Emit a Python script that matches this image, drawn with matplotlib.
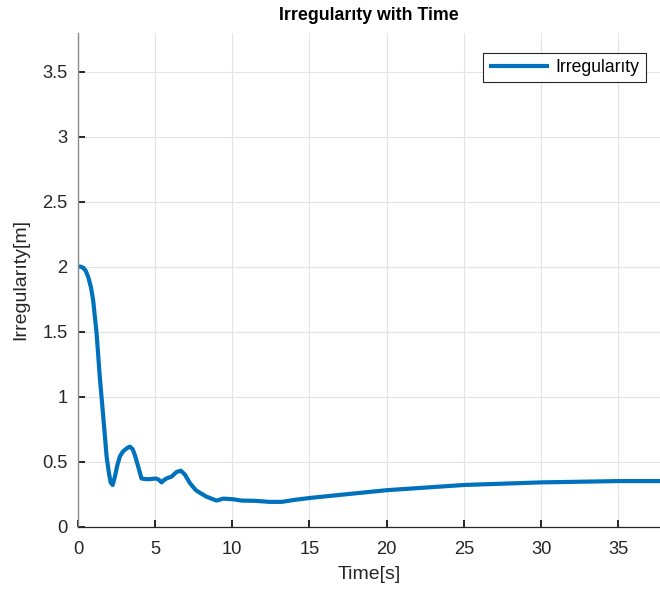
#!/usr/bin/env python3
"""Irregularity with time, MATLAB-like look."""

import matplotlib
matplotlib.use("Agg")
import matplotlib.pyplot as plt
from matplotlib.ticker import FormatStrFormatter, MultipleLocator

# values
time_s = [0.0, 0.2, 0.34, 0.5, 0.67, 0.85, 0.99, 1.21, 1.42, 1.64, 1.86,
          2.0, 2.12, 2.25, 2.4, 2.55, 2.72, 2.9, 3.04, 3.2, 3.37, 3.55,
          3.69, 3.91, 4.12, 4.4, 4.66, 5.05, 5.25, 5.42, 5.6, 5.74, 6.07,
          6.39, 6.67, 6.93, 7.25, 7.64, 7.9, 8.33, 8.98, 9.41, 10.06,
          10.6, 11.5, 12.4, 13.2, 14.0, 15.0, 17.5, 20.0, 22.5, 25.0,
          27.5, 30.0, 32.5, 35.0, 37.7]
irregularity = [2.0, 2.0, 1.99, 1.97, 1.92, 1.84, 1.74, 1.49, 1.15, 0.85,
                0.54, 0.42, 0.34, 0.32, 0.385, 0.47, 0.54, 0.575, 0.59,
                0.605, 0.615, 0.595, 0.55, 0.46, 0.37, 0.365, 0.365, 0.37,
                0.36, 0.34, 0.36, 0.37, 0.385, 0.42, 0.43, 0.40, 0.335,
                0.28, 0.26, 0.23, 0.20, 0.215, 0.21, 0.20, 0.198, 0.19,
                0.19, 0.205, 0.22, 0.25, 0.28, 0.30, 0.32, 0.33, 0.34,
                0.345, 0.35, 0.35]

plt.rcParams["font.family"] = ["Liberation Sans", "DejaVu Sans"]

fig = plt.figure(figsize=(6.6, 5.95), dpi=100)
ax = fig.add_axes([0.118, 0.115, 0.882, 0.83])

ax.plot(time_s, irregularity, color="#0072BD", linewidth=3,
        label="Irregularıty", solid_capstyle="butt")

ax.set_xlim(0, 37.7)
ax.set_ylim(0, 3.8)
ax.xaxis.set_major_locator(MultipleLocator(5))
ax.yaxis.set_major_locator(MultipleLocator(0.5))
ax.xaxis.set_major_formatter(FormatStrFormatter("%g"))
ax.yaxis.set_major_formatter(FormatStrFormatter("%g"))

ax.grid(True, color="#e3e3e3", linewidth=0.8)
ax.set_axisbelow(True)
for side in ("top", "right"):
    ax.spines[side].set_visible(False)
ax.spines["left"].set_color("#8a8a8a")
ax.spines["left"].set_linewidth(1.0)
ax.spines["bottom"].set_color("#262626")
ax.spines["bottom"].set_linewidth(0.9)
ax.tick_params(direction="in", length=5, width=1.4, colors="#262626",
               labelsize=13.2)
ax.tick_params(axis="x", pad=10.5)
ax.tick_params(axis="y", pad=7.5)

ax.set_xlabel("Time[s]", fontsize=14, color="#262626", labelpad=6)
ax.set_ylabel("Irregularıty[m]", fontsize=14, color="#262626", labelpad=9)
ax.set_title("Irregularıty with Time", fontsize=12.8, fontweight="bold",
             pad=9)

leg = ax.legend(loc="upper right", fontsize=12.7, handlelength=3.4,
                handletextpad=0.4, fancybox=False, framealpha=1,
                borderpad=0.35, borderaxespad=0,
                bbox_to_anchor=(646 / 660, (595 - 53) / 595),
                bbox_transform=fig.transFigure)
leg.get_frame().set_edgecolor("#262626")
leg.get_frame().set_linewidth(0.8)

fig.savefig("out.png", dpi=100)
